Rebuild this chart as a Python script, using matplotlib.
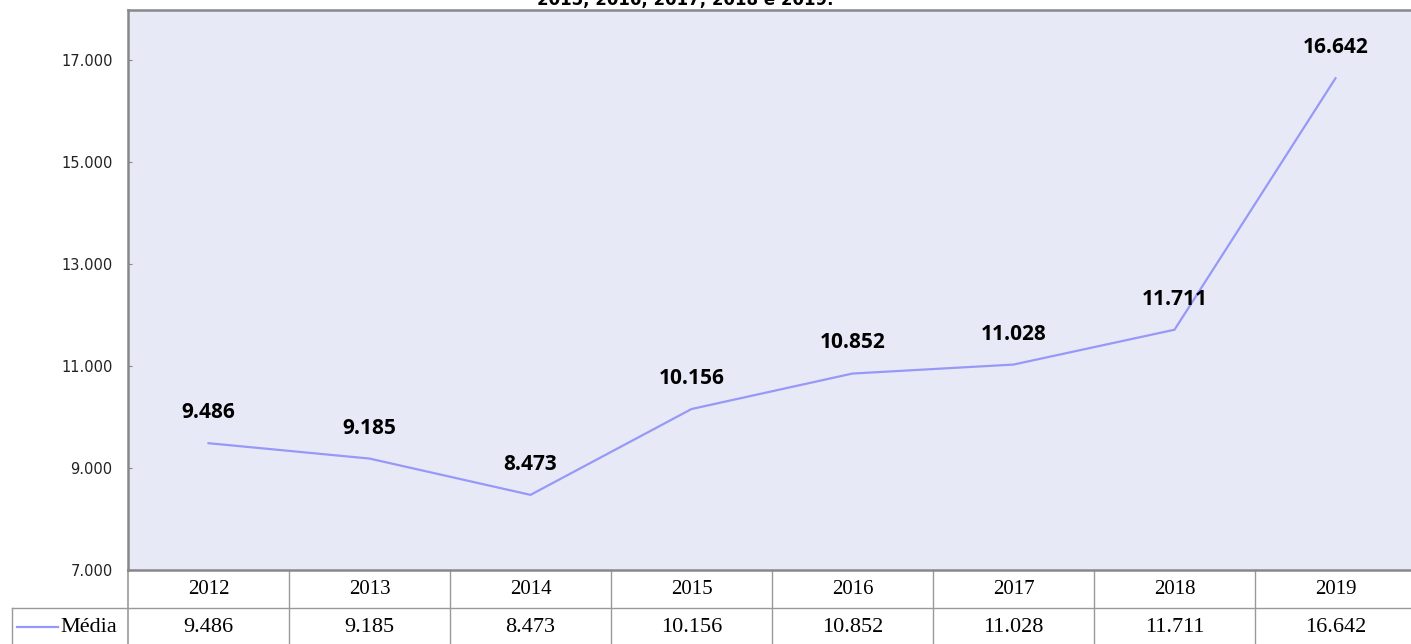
import matplotlib
matplotlib.use("Agg")
import matplotlib.pyplot as plt
import matplotlib.transforms as mtransforms
from matplotlib.lines import Line2D

years = ["2012", "2013", "2014", "2015", "2016", "2017", "2018", "2019"]
values = [9486, 9185, 8473, 10156, 10852, 11028, 11711, 16642]
value_labels = ["9.486", "9.185", "8.473", "10.156", "10.852", "11.028", "11.711", "16.642"]
yticks = [7000, 9000, 11000, 13000, 15000, 17000]
ytick_labels = ["7.000", "9.000", "11.000", "13.000", "15.000", "17.000"]
series_name = "Média"
title_text = "2015, 2016, 2017, 2018 e 2019."

W, H = 1411, 644
fig = plt.figure(figsize=(W / 100, H / 100), dpi=100)
fig.patch.set_facecolor("white")

ax_left, ax_right, ax_top, ax_bottom = 128, 1416, 10, 570
ax = fig.add_axes([ax_left / W, 1 - ax_bottom / H, (ax_right - ax_left) / W, (ax_bottom - ax_top) / H])
ax.set_facecolor("#E7EAF6")

line_color = "#9898F8"
x = list(range(len(years)))
ax.plot(x, values, color=line_color, lw=1.6, solid_joinstyle="miter")

ax.set_xlim(-0.5, len(years) - 0.5)
ax.set_ylim(7000, 17980)
ax.set_yticks(yticks)
ax.set_yticklabels(ytick_labels, fontfamily="DejaVu Sans", fontsize=10.5, color="#222222")
ax.set_xticks([])
ax.tick_params(axis="y", direction="in", length=3, width=0.8, color="#888888", pad=11)

for side in ["left", "top", "bottom"]:
    ax.spines[side].set_color("#888888")
    ax.spines[side].set_linewidth(1.8)
ax.spines["right"].set_visible(False)

for xi, v, lab in zip(x, values, value_labels):
    ax.annotate(lab, (xi, v), xytext=(0, 22), textcoords="offset points",
                ha="center", va="center", fontsize=15, fontweight="bold",
                fontfamily="Open Sans", color="black")

# data table below the axes
trans = mtransforms.blended_transform_factory(ax.transData, ax.transAxes)
col_w = 161.0
def px2data(px):
    return (px - ax_left) / col_w - 0.5
def py2ax(py):
    return (ax_bottom - py) / (ax_bottom - ax_top)

grid_color = "#999999"
y_mid = py2ax(608)
y_bot = py2ax(650)
x_lab_left = px2data(12)
ax.add_line(Line2D([x_lab_left, len(years) - 0.5 + 0.1], [y_mid, y_mid], transform=trans,
                   color=grid_color, lw=1.0, clip_on=False))
for i in range(len(years) + 1):
    xb = i - 0.5
    ax.add_line(Line2D([xb, xb], [0, y_bot], transform=trans, color=grid_color,
                       lw=1.0 if i > 0 else 1.2, clip_on=False))
ax.add_line(Line2D([x_lab_left, x_lab_left], [y_mid, y_bot], transform=trans,
                   color=grid_color, lw=1.0, clip_on=False))

for xi, yr, lab in zip(x, years, value_labels):
    ax.text(xi, py2ax(589), yr, transform=trans, ha="center", va="center",
            fontsize=15, fontfamily="Liberation Serif", color="black", clip_on=False)
    ax.text(xi, py2ax(628), lab, transform=trans, ha="center", va="center",
            fontsize=16, fontfamily="Liberation Serif", color="black", clip_on=False)

ax.add_line(Line2D([px2data(17), px2data(58)], [py2ax(627), py2ax(627)], transform=trans,
                   color=line_color, lw=1.6, clip_on=False))
ax.text(px2data(60), py2ax(628), series_name, transform=trans, ha="left", va="center",
        fontsize=16, fontfamily="Liberation Serif", color="black", clip_on=False)

# title (cut off at the top edge, as in the reference)
fig.text(685 / W, 1 - 5 / H, title_text, ha="center", va="baseline",
         fontsize=12, fontweight="bold", fontfamily="DejaVu Sans", color="black")

fig.savefig("out.png", dpi=100, facecolor=fig.get_facecolor())
